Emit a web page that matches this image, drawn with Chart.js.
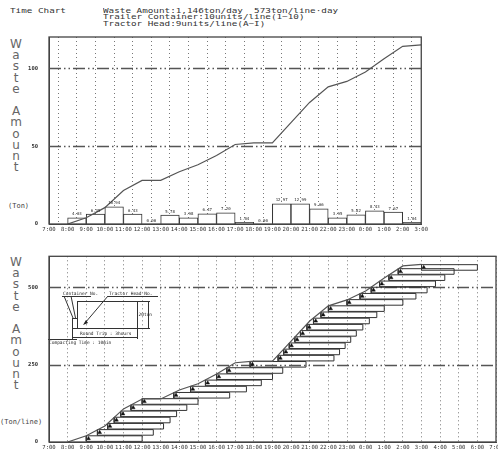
<!DOCTYPE html>
<html>
<head>
<meta charset="utf-8">
<script src="https://cdn.jsdelivr.net/npm/chart.js@4.4.1/dist/chart.umd.min.js"></script>
<style>
body{margin:0;width:498px;height:455px;background:#fff;position:relative;overflow:hidden;font-family:'DejaVu Sans Mono',monospace;color:#333}
.hd{position:absolute;font-size:9.3px;line-height:9.3px;transform:scaleY(0.72);transform-origin:0 0;white-space:pre;color:#333}
.vt{position:absolute;left:8px;width:16px;text-align:center;font-family:'DejaVu Sans',sans-serif;font-size:12px;line-height:11.2px;color:#666;white-space:pre}
.un{position:absolute;font-family:'DejaVu Sans Mono',monospace;font-size:7px;color:#444;white-space:pre}
#top{position:absolute;left:0;top:30px;width:430px;height:206px}
#bot{position:absolute;left:0;top:250px;width:512px;height:204px}
</style>
</head>
<body>
<div class="hd" style="left:10px;top:7px">Time Chart</div>
<div class="hd" style="left:103px;top:7px">Waste Amount:1,146ton/day  573ton/line·day
Trailer Container:10units/line(1~10)
Tractor Head:9units/line(A~I)</div>
<div class="vt" style="top:39px">W
a
s
t
e

A
m
o
u
n
t</div>
<div class="un" style="left:8px;top:202px">(Ton)</div>
<div class="vt" style="top:257px">W
a
s
t
e

A
m
o
u
n
t</div>
<div class="un" style="left:0px;top:418px">(Ton/line)</div>
<div id="top"><canvas id="c1"></canvas></div>
<div id="bot"><canvas id="c2"></canvas></div>
<script>
// ---- data ----
// hourly waste (ton), one bar per hour, labelled by start time
const barStart = ['8:00','9:00','10:00','11:00','12:00','13:00','14:00','15:00','16:00','17:00','18:00','19:00','20:00','21:00','22:00','23:00','0:00','1:00','2:00'];
const hourlyTon = [4.03, 6.35, 10.94, 6.43, 0.00, 5.78, 3.98, 6.47, 7.20, 1.04, 0.00, 12.97, 12.99, 9.66, 3.95, 5.82, 8.43, 7.67, 1.04];

// cumulative amount (top chart, Ton)
const cumTimes = ['8:00','9:00','10:00','11:00','12:00','13:00','14:00','15:00','16:00','17:00','18:00','19:00','20:00','21:00','22:00','23:00','0:00','1:00','2:00','3:00'];
const cumTon = [0, 4, 10.5, 21.5, 28, 28, 33.5, 38, 44, 51, 52, 52, 65, 78, 88, 91.5, 97.5, 106, 114, 115];

// cumulative amount per line (bottom chart, Ton/line)
const cumTonLine = [0, 20, 52, 107, 139, 139, 168, 188, 220, 256, 261, 261, 326, 391, 440, 459, 488, 530, 569, 574];

// containers: departure time and fill level (Ton/line)
const containerStart = ['9:00','9:36','10:09','10:30','10:51','11:24','12:00','13:42','14:36','15:24','16:00','16:33','17:48','19:18','19:36','19:54','20:12','20:30','20:51','21:12','21:36','22:00','23:00','23:42','0:18','0:45','1:15','1:45','3:00'];
const containerTon = [20, 40, 60, 80, 100, 120, 140, 160, 180, 200, 220, 240, 260, 280, 300, 320, 340, 360, 380, 400, 420, 440, 460, 480, 500, 520, 540, 560, 573];
const roundTripHours = 3;
const containerHeight = 18;

const topYTicks = [0, 50, 100];
const topRefLines = [50, 100];
const botYTicks = [0, 250, 500];
const botRefLines = [250, 500];

// hours counted from 7:00
function toX(t) {
  const p = t.split(':').map(Number);
  return ((p[0] - 7 + 24) % 24) + p[1] / 60;
}
function hourLabel(v) { return ((7 + v) % 24) + ':00'; }

Chart.defaults.font.family = "'DejaVu Sans Mono', monospace";
Chart.defaults.color = '#333';
Chart.defaults.animation = false;

const framePlugin = {
  id: 'refLines',
  beforeDatasetsDraw(chart, args, opts) {
    const ctx = chart.ctx, a = chart.chartArea, y = chart.scales.y;
    ctx.save();
    ctx.strokeStyle = '#555';
    ctx.lineWidth = 1.6;
    ctx.setLineDash([12, 3, 1.5, 3, 1.5, 3]);
    (opts.values || []).forEach(v => {
      const py = Math.round(y.getPixelForValue(v)) + 0.5;
      ctx.beginPath(); ctx.moveTo(a.left, py); ctx.lineTo(a.right, py); ctx.stroke();
    });
    ctx.restore();
  },
  afterDraw(chart) {
    const ctx = chart.ctx, a = chart.chartArea;
    ctx.save();
    ctx.strokeStyle = '#444';
    ctx.lineWidth = 1.3;
    ctx.strokeRect(a.left, a.top, a.right - a.left, a.bottom - a.top);
    ctx.restore();
  }
};

function xScale(max) {
  return {
    type: 'linear', min: 0, max: max, offset: false,
    afterBuildTicks: s => { s.ticks = Array.from({length: max + 1}, (_, i) => ({value: i})); },
    afterFit: s => { s.height = 12; },
    ticks: { autoSkip: false, maxRotation: 0, padding: 2, font: {size: 5.6}, callback: v => hourLabel(v) },
    grid: { color: '#777', lineWidth: 1, drawTicks: false },
    border: { color: '#444', dash: [1, 3] }
  };
}
function yScale(max, ticks) {
  return {
    min: 0, max: max,
    afterBuildTicks: s => { s.ticks = ticks.map(v => ({value: v})); },
    afterFit: s => { s.width = 49; },
    ticks: { padding: 3, font: {size: 5.5, weight: 'bold'} },
    grid: { display: false },
    border: { color: '#444' }
  };
}

// ---- top chart ----
const barLabelPlugin = {
  id: 'barLabels',
  afterDatasetsDraw(chart) {
    const ctx = chart.ctx;
    const meta = chart.getDatasetMeta(1);
    ctx.save();
    ctx.font = "4px 'DejaVu Sans Mono'";
    ctx.fillStyle = '#222';
    ctx.textAlign = 'center';
    ctx.textBaseline = 'bottom';
    meta.data.forEach((el, i) => {
      ctx.fillText(hourlyTon[i].toFixed(2), el.x, el.y - 1.5);
    });
    ctx.restore();
  }
};

new Chart(document.getElementById('c1'), {
  type: 'bar',
  data: {
    datasets: [{
      type: 'line', order: 0,
      data: cumTimes.map((t, i) => ({x: toX(t), y: cumTon[i]})),
      borderColor: '#555', borderWidth: 1.2, pointRadius: 0, tension: 0
    }, {
      type: 'bar', order: 1,
      data: barStart.map((t, i) => ({x: toX(t) + 0.5, y: hourlyTon[i]})),
      backgroundColor: '#fff', borderColor: '#333', borderWidth: 1,
      barPercentage: 1, categoryPercentage: 1
    }]
  },
  options: {
    responsive: true, maintainAspectRatio: false,
    layout: { padding: { top: 7, right: 8, left: 0, bottom: 0 } },
    plugins: { legend: {display: false}, tooltip: {enabled: false}, refLines: { values: topRefLines } },
    scales: { x: xScale(20), y: yScale(120, topYTicks) }
  },
  plugins: [framePlugin, barLabelPlugin]
});

// ---- bottom chart ----
const boxPoints = [];
containerStart.forEach((t, i) => {
  const x0 = toX(t), x1 = x0 + roundTripHours;
  const top = containerTon[i], bot = top - containerHeight;
  boxPoints.push({x: x0, y: bot}, {x: x1, y: bot}, {x: x1, y: top}, {x: x0, y: top}, {x: x0, y: bot}, {x: x0, y: null});
});

const insetPlugin = {
  id: 'inset',
  afterDatasetsDraw(chart) {
    const ctx = chart.ctx;
    ctx.save();
    ctx.strokeStyle = '#333';
    ctx.fillStyle = '#222';
    ctx.lineWidth = 1;
    const line = (a, b, c, d) => { ctx.beginPath(); ctx.moveTo(a, b); ctx.lineTo(c, d); ctx.stroke(); };
    ctx.strokeRect(77.5, 51.5, 60, 27);
    ctx.strokeRect(72.5, 68.5, 5, 10);
    line(64, 46, 73, 68); line(71, 46, 75.5, 68);
    line(108, 46, 85, 73);
    ctx.beginPath(); ctx.moveTo(83, 75); ctx.lineTo(86, 70); ctx.lineTo(88, 73); ctx.closePath(); ctx.fill();
    line(62, 46.5, 91, 46.5); line(108, 46.5, 158, 46.5);
    // 20 ton dimension
    line(138, 51.5, 150, 51.5); line(138, 78.5, 150, 78.5); line(148.5, 51.5, 148.5, 78.5);
    // round trip dimension
    line(72.5, 78, 72.5, 89); line(137.5, 78, 137.5, 89); line(72, 87.5, 138, 87.5);
    line(48, 89.5, 77, 89.5);
    ctx.font = "4.5px 'DejaVu Sans Mono'";
    ctx.textBaseline = 'middle';
    ctx.fillText('Container No.', 63, 43.5);
    ctx.fillText('Tractor Head No.', 109, 43.5);
    ctx.fillText('20ton', 138.5, 65);
    ctx.fillText('Round Trip : 3hours', 80, 83.5);
    ctx.fillText('Compacting Time : 10min', 49, 92.5);
    ctx.restore();
  }
};

new Chart(document.getElementById('c2'), {
  type: 'line',
  data: {
    datasets: [{
      data: cumTimes.map((t, i) => ({x: toX(t), y: cumTonLine[i]})),
      borderColor: '#555', borderWidth: 1.2, pointRadius: 0, tension: 0
    }, {
      data: boxPoints,
      borderColor: '#333', borderWidth: 1, pointRadius: 0, spanGaps: false, tension: 0
    }, {
      type: 'scatter',
      data: containerStart.map((t, i) => ({x: toX(t) + 0.12, y: containerTon[i] - 9})),
      pointStyle: 'triangle', pointRadius: 2.2, backgroundColor: '#111', borderColor: '#111', borderWidth: 0.5
    }]
  },
  options: {
    responsive: true, maintainAspectRatio: false,
    layout: { padding: { top: 6, right: 16, left: 0, bottom: 0 } },
    plugins: { legend: {display: false}, tooltip: {enabled: false}, refLines: { values: botRefLines } },
    scales: { x: xScale(24), y: yScale(600, botYTicks) }
  },
  plugins: [framePlugin, insetPlugin]
});
</script>
</body>
</html>
